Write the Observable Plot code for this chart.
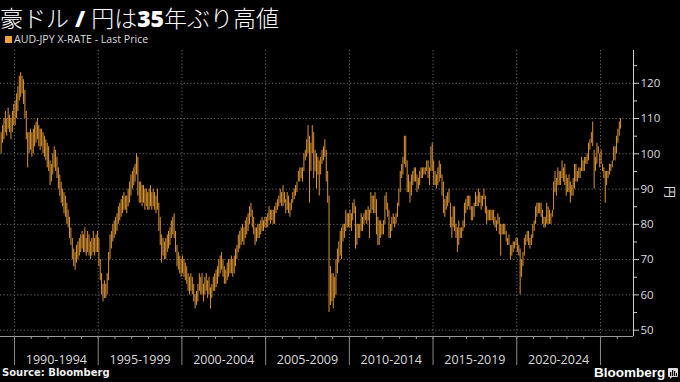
<!DOCTYPE html>
<html><head><meta charset="utf-8">
<script src="https://cdn.jsdelivr.net/npm/d3@7"></script>
<script src="https://cdn.jsdelivr.net/npm/@observablehq/plot@0.6"></script>
<style>
html,body{margin:0;padding:0;background:#000;}
body{width:680px;height:382px;overflow:hidden;position:relative;font-family:"Open Sans",sans-serif;color:#ddd;}
#title{position:absolute;left:0;top:4px;font-family:"Noto Sans CJK JP",sans-serif;font-size:23px;line-height:26px;color:#fff;font-weight:300;white-space:nowrap;}
#title b{font-family:"Open Sans","Noto Sans CJK JP",sans-serif;font-weight:800;}
#legend{position:absolute;left:14px;top:32px;font-size:10.6px;line-height:14px;color:#ddd;white-space:nowrap;}
#sw{position:absolute;left:5px;top:36px;width:7px;height:7px;background:#f5a13a;}
#chart{position:absolute;left:0;top:46px;}
#yen{position:absolute;left:664px;top:185px;font-family:"Noto Sans CJK JP",sans-serif;font-size:12px;line-height:14px;color:#ddd;transform:rotate(90deg);transform-origin:50% 50%;}
#source{position:absolute;left:2px;top:367px;font-family:"DejaVu Sans",sans-serif;font-weight:bold;font-size:10px;line-height:12px;color:#eee;}
#logo{position:absolute;left:594px;top:365px;font-family:"Liberation Sans",Arial,sans-serif;font-weight:bold;font-size:13.5px;line-height:16px;color:#fff;}
#icon{position:absolute;left:668px;top:368px;}
</style></head><body>
<div id="title">豪ドル<b> / </b>円は<b>35</b>年ぶり高値</div>
<div id="sw"></div>
<div id="legend">AUD-JPY X-RATE - Last Price</div>
<div id="chart"></div>
<div id="yen">円</div>
<div id="source">Source: Bloomberg</div>
<div id="logo">Bloomberg</div>
<svg id="icon" width="10" height="11" viewBox="0 0 10 11"><rect x="0" y="0" width="10" height="9" rx="1" fill="#ddd"/><path d="M2 9 L2 11 L4 9Z" fill="#ddd"/><rect x="2" y="4" width="1.2" height="4" fill="#000"/><rect x="4" y="2" width="1.2" height="6" fill="#000"/><rect x="6" y="3" width="1.2" height="5" fill="#000"/><rect x="8" y="5" width="1" height="3" fill="#000"/></svg>
<script>
// Monthly AUD-JPY ranges, starting March 1989
const startYear = 1989, startMonth = 2; // March (0-based)
const lows = [
  100,103,104,106,105,107,106,104,106,108,
  108,110,112,115,116,117,114,110,104,96,100,101,
  99,100,102,103,104,102,101,102,100,99,98,96,
  95,91,92,94,96,95,93,90,88,86,85,83,
  82,80,79,76,74,70,68,67,69,70,71,72,
  73,72,72,71,72,71,70,71,72,71,72,72,
  68,64,60,58,59,59,60,64,70,73,75,76,
  77,78,80,81,82,83,84,84,83,85,86,88,
  90,91,92,94,88,86,86,85,86,84,85,84,
  84,85,84,85,84,83,84,78,74,69,71,70,
  70,72,73,74,76,77,76,72,68,67,66,65,
  66,65,64,63,61,60,61,60,58,56,57,58,
  61,60,60,58,60,61,59,60,56,59,61,61,
  62,63,65,66,67,65,63,63,64,65,66,66,
  65,66,68,70,72,73,74,75,74,76,77,78,
  80,82,79,77,74,75,76,76,77,78,78,79,
  79,79,81,80,81,80,80,83,84,85,86,85,
  85,86,83,84,83,82,84,86,87,88,89,92,
  92,93,92,95,98,99,100,86,95,100,93,95,
  90,94,88,94,97,98,99,92,86,55,57,58,
  56,59,60,66,69,71,70,75,76,78,79,79,
  79,78,81,83,73,74,76,76,78,78,80,81,
  80,81,76,83,84,83,83,77,74,74,76,77,
  77,80,84,82,76,76,78,80,79,80,82,85,
  89,93,94,97,96,89,89,86,88,91,92,92,
  89,90,91,93,93,94,94,95,93,91,95,95,
  91,91,90,91,92,93,88,83,82,84,85,86,
  79,76,79,78,76,72,74,76,76,78,79,83,
  84,85,84,81,81,82,85,85,85,86,84,85,
  87,83,80,81,81,81,81,80,79,78,80,77,
  71,77,77,77,75,74,74,70,71,72,73,74,
  72,71,60,65,68,71,74,75,74,73,74,76,
  78,80,82,83,83,82,80,79,79,80,80,80,
  80,82,84,89,88,91,91,91,93,92,91,88,
  89,89,86,88,88,90,92,92,93,93,95,95,
  95,97,97,98,101,103,102,90,95,97,100,96,
  97,95,93,86,91,93,94,95,96,98,98,100,
  103,105,107
];
const highs = [
  106,108,110,112,110,113,111,110,112,114,
  115,117,119,122,123,122,121,118,112,106,106,107,
  106,107,108,109,110,108,107,107,106,105,104,103,
  102,98,97,100,102,101,99,96,94,92,90,89,
  88,86,84,82,79,76,73,72,74,75,76,77,
  78,77,79,76,78,77,75,76,78,76,77,78,
  76,70,66,63,64,63,66,72,77,78,80,81,
  82,83,85,86,87,88,89,88,88,90,92,94,
  95,96,97,100,99,92,92,91,91,90,90,89,
  90,91,89,90,89,88,90,86,82,77,76,75,
  76,77,78,79,81,82,83,78,74,72,71,70,
  71,70,69,68,66,65,66,65,63,60,61,63,
  66,65,66,63,65,66,64,65,62,63,65,66,
  67,68,70,71,72,70,68,67,69,70,70,71,
  70,71,73,74,77,78,79,80,79,81,82,83,
  85,86,84,82,79,79,80,80,81,82,81,82,
  82,83,85,84,84,84,85,86,87,88,90,89,
  91,89,87,89,88,86,87,89,90,91,92,95,
  96,96,96,100,101,104,108,105,103,108,106,101,
  100,99,98,99,101,102,104,101,95,88,68,66,
  66,65,70,73,75,78,79,80,80,84,83,83,
  84,83,86,87,85,80,80,80,83,82,83,84,
  84,85,84,89,88,88,89,87,82,81,81,80,
  81,88,89,86,84,80,82,83,82,83,86,90,
  95,97,99,105,105,98,94,92,94,95,96,96,
  94,93,95,96,96,96,96,98,98,96,102,103,
  98,95,94,96,98,97,94,92,87,88,89,90,
  86,82,85,85,80,79,81,79,79,81,86,87,
  88,88,88,85,85,86,89,88,90,89,88,88,
  90,88,85,84,84,84,84,84,82,81,83,82,
  80,80,80,80,78,76,77,74,74,75,75,76,
  76,74,73,70,72,76,77,78,78,76,77,80,
  81,85,86,86,86,86,84,82,82,86,85,84,
  83,84,92,95,93,96,95,95,98,96,97,94,
  93,94,92,91,93,97,97,95,96,96,99,98,
  99,99,100,103,104,106,109,101,99,103,102,100,
  101,97,96,95,95,95,97,97,98,102,102,105,
  107,109,110
];
const yTicks = [50, 60, 70, 80, 90, 100, 110, 120];
const yMinor = [55, 65, 75, 85, 95, 105, 115, 125];
const periodStarts = [1990, 1995, 2000, 2005, 2010, 2015, 2020, 2025];
const periodLabels = ["1990-1994", "1995-1999", "2000-2004", "2005-2009", "2010-2014", "2015-2019", "2020-2024"];
const yearTicks = d3.range(1990, 2027);

const data = lows.map((lo, i) => ({
  date: new Date(Date.UTC(startYear, startMonth + i, 15)),
  low: lo,
  high: highs[i]
}));

const xStart = new Date(Date.UTC(1989, 2, 1));
const xEnd = new Date(Date.UTC(2026, 11, 22));
const yMin = 48.2, yMax = 129.3;
const sepDates = periodStarts.map(y => new Date(Date.UTC(y, 0, 1)));
const midDates = periodLabels.map((l, i) => new Date(Date.UTC(periodStarts[i] + 2, 6, 2)));
const yearDates = yearTicks.map(y => new Date(Date.UTC(y, 0, 1)));
const gridStyle = {stroke: "#6a6a6a", strokeOpacity: 1, strokeDasharray: "1.2,2.2", strokeWidth: 1};
const barColor = "#dc9433";

const chart = Plot.plot({
  width: 680, height: 336,
  marginLeft: 0, marginRight: 47, marginTop: 4, marginBottom: 46,
  style: {background: "#000", color: "#d8d8d8", fontFamily: "Open Sans, sans-serif", fontSize: "11.5px", overflow: "visible"},
  x: {type: "utc", domain: [xStart, xEnd], label: null},
  y: {domain: [yMin, yMax], label: null},
  marks: [
    Plot.gridY(yTicks, gridStyle),
    Plot.gridX(sepDates, gridStyle),
    Plot.ruleX(data, {x: "date", y1: "low", y2: "high", stroke: barColor, strokeWidth: 1}),
    Plot.ruleX([xEnd], {stroke: "#cfcfcf", strokeWidth: 1}),
    Plot.ruleY([yMin], {stroke: "#9a9a9a", strokeWidth: 1}),
    Plot.axisY(yTicks, {anchor: "right", tickSize: 5, tickPadding: 2, stroke: "#cfcfcf", fill: "#dcdcdc", fontSize: 11.5, label: null}),
    Plot.axisY(yMinor, {anchor: "right", tickSize: 3, tickFormat: () => "", stroke: "#cfcfcf", label: null}),
    Plot.axisX(yearDates, {anchor: "bottom", tickSize: 3, tickFormat: () => "", stroke: "#9a9a9a", label: null}),
    Plot.axisX(sepDates, {anchor: "bottom", tickSize: 29, tickFormat: () => "", stroke: "#8a8a8a", label: null}),
    Plot.axisX(midDates, {anchor: "bottom", tickSize: 0, tickPadding: 19, fontSize: 12.5, fill: "#dcdcdc",
      tickFormat: d => periodLabels[periodStarts.indexOf(d.getUTCFullYear() - 2)], label: null})
  ]
});
document.getElementById("chart").appendChild(chart);
</script>
</body></html>
